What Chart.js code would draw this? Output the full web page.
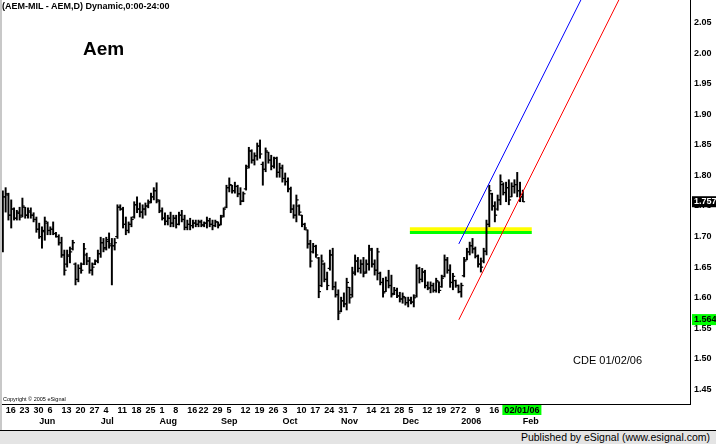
<!DOCTYPE html>
<html>
<head>
<meta charset="utf-8">
<script src="https://cdn.jsdelivr.net/npm/chart.js@4.4.1/dist/chart.umd.min.js"></script>
<style>
  html, body { margin: 0; padding: 0; background: #fff; }
  #wrap { position: relative; width: 716px; height: 444px; overflow: hidden; font-family: "Liberation Sans", Arial, sans-serif; }
  #edge { position: absolute; left: 0; top: 0; width: 2px; height: 430px; background: #c8c8c8; }
  #chartBox { position: absolute; left: 2px; top: 0; width: 714px; height: 430px; }
  #footer { position: absolute; left: 0; top: 430px; width: 716px; height: 14px; box-sizing: border-box;
            background: #e4e4e4; border-top: 1px solid #000; }
  #footer span { position: absolute; right: 6px; top: 0; font-size: 10.5px; line-height: 13px; color: #000; }
  .txt { position: absolute; white-space: nowrap; color: #000; }
  #head { left: 2px; top: 1px; font-size: 9px; font-weight: bold; }
  #sym { left: 83px; top: 38px; font-size: 19px; font-weight: bold; }
  #note { left: 573px; top: 354px; font-size: 11px; }
  #copy { left: 3px; top: 396px; font-size: 5.5px; }
</style>
</head>
<body>
<div id="wrap">
  <div id="edge"></div>
  <div id="chartBox"><canvas id="ohlc"></canvas></div>
  <div class="txt" id="head">(AEM-MIL - AEM,D) Dynamic,0:00-24:00</div>
  <div class="txt" id="sym">Aem</div>
  <div class="txt" id="note">CDE 01/02/06</div>
  <div class="txt" id="copy">Copyright © 2005 eSignal</div>
  <div id="footer"><span>Published by eSignal (www.esignal.com)</span></div>
</div>
<script>
// daily bars, 13 May 2005 .. 1 Feb 2006
const highs = [
  1.775,1.780,1.771,1.760,1.747,1.743,1.748,1.763,1.748,1.747,
  1.747,1.739,1.732,1.722,1.716,1.732,1.724,1.716,1.724,1.707,
  1.703,1.699,1.678,1.678,1.683,1.694,1.657,1.654,1.657,1.689,
  1.673,1.666,1.657,1.662,1.678,1.699,1.697,1.699,1.706,1.697,
  1.697,1.752,1.752,1.748,1.732,1.724,1.732,1.757,1.765,1.755,
  1.752,1.755,1.760,1.771,1.780,1.788,1.760,1.747,1.739,1.735,
  1.740,1.735,1.735,1.740,1.743,1.735,1.727,1.730,1.727,1.727,
  1.727,1.727,1.724,1.732,1.730,1.727,1.727,1.724,1.735,1.747,
  1.784,1.796,1.784,1.789,1.784,1.780,1.773,1.817,1.846,1.842,
  1.837,1.853,1.858,1.822,1.845,1.838,1.833,1.830,1.830,1.820,
  1.817,1.804,1.796,1.781,1.752,1.768,1.752,1.735,1.722,1.711,
  1.694,1.689,1.686,1.666,1.670,1.657,1.642,1.678,1.681,1.626,
  1.613,1.601,1.608,1.632,1.617,1.650,1.670,1.666,1.662,1.666,
  1.662,1.686,1.681,1.662,1.681,1.642,1.632,1.634,1.645,1.637,
  1.617,1.616,1.609,1.608,1.601,1.601,1.601,1.605,1.654,1.650,
  1.648,1.645,1.626,1.626,1.624,1.632,1.626,1.637,1.670,1.666,
  1.654,1.640,1.629,1.621,1.624,1.666,1.681,1.691,1.697,1.683,
  1.670,1.665,1.681,1.727,1.784,1.771,1.757,1.768,1.801,1.788,
  1.789,1.793,1.788,1.793,1.805,1.789,1.776
];
const lows = [
  1.675,1.740,1.727,1.714,1.727,1.727,1.727,1.732,1.730,1.730,
  1.730,1.724,1.707,1.697,1.681,1.694,1.703,1.703,1.703,1.699,
  1.686,1.666,1.637,1.650,1.657,1.678,1.621,1.626,1.640,1.654,
  1.654,1.640,1.637,1.654,1.657,1.666,1.675,1.678,1.681,1.621,
  1.678,1.697,1.743,1.714,1.703,1.706,1.716,1.730,1.739,1.732,
  1.730,1.735,1.747,1.755,1.760,1.755,1.739,1.727,1.719,1.719,
  1.716,1.716,1.714,1.719,1.724,1.711,1.711,1.711,1.714,1.716,
  1.716,1.716,1.716,1.714,1.716,1.711,1.716,1.714,1.719,1.732,
  1.747,1.773,1.771,1.771,1.765,1.752,1.757,1.776,1.812,1.820,
  1.817,1.825,1.828,1.784,1.806,1.820,1.809,1.812,1.797,1.797,
  1.789,1.784,1.773,1.739,1.730,1.724,1.735,1.716,1.711,1.681,
  1.650,1.673,1.666,1.600,1.618,1.626,1.613,1.645,1.613,1.601,
  1.564,1.577,1.585,1.580,1.591,1.601,1.637,1.642,1.640,1.634,
  1.640,1.645,1.650,1.637,1.629,1.621,1.601,1.610,1.616,1.601,
  1.605,1.600,1.593,1.591,1.588,1.585,1.590,1.585,1.601,1.624,
  1.626,1.616,1.613,1.608,1.609,1.609,1.608,1.617,1.634,1.640,
  1.617,1.613,1.617,1.608,1.601,1.634,1.662,1.670,1.673,1.665,
  1.650,1.642,1.657,1.670,1.716,1.743,1.724,1.743,1.752,1.768,
  1.757,1.752,1.765,1.771,1.765,1.757,1.757
];
const opens = [
  1.680,1.765,1.768,1.735,1.745,1.730,1.738,1.735,1.748,1.735,
  1.740,1.735,1.728,1.712,1.700,1.708,1.722,1.710,1.712,1.705,
  1.700,1.690,1.670,1.655,1.668,1.680,1.655,1.630,1.648,1.655,
  1.670,1.660,1.645,1.655,1.660,1.672,1.690,1.682,1.692,1.688,
  1.685,1.700,1.748,1.745,1.720,1.710,1.720,1.732,1.752,1.745,
  1.740,1.745,1.750,1.757,1.765,1.775,1.758,1.742,1.730,1.725,
  1.730,1.722,1.730,1.720,1.735,1.728,1.715,1.720,1.718,1.722,
  1.720,1.724,1.719,1.722,1.726,1.720,1.718,1.724,1.720,1.734,
  1.748,1.780,1.784,1.775,1.782,1.770,1.758,1.778,1.815,1.840,
  1.825,1.832,1.848,1.818,1.810,1.838,1.825,1.815,1.828,1.805,
  1.812,1.795,1.790,1.778,1.745,1.735,1.750,1.735,1.720,1.711,
  1.688,1.675,1.684,1.665,1.620,1.655,1.630,1.648,1.670,1.618,
  1.605,1.578,1.595,1.590,1.617,1.605,1.642,1.660,1.648,1.655,
  1.642,1.655,1.678,1.655,1.645,1.640,1.625,1.610,1.628,1.620,
  1.607,1.612,1.603,1.598,1.600,1.592,1.596,1.593,1.603,1.648,
  1.630,1.642,1.620,1.616,1.620,1.612,1.626,1.618,1.635,1.662,
  1.645,1.625,1.628,1.620,1.610,1.636,1.662,1.675,1.685,1.680,
  1.668,1.655,1.660,1.676,1.720,1.770,1.750,1.745,1.760,1.785,
  1.772,1.780,1.765,1.782,1.785,1.775,1.765
];
const closes = [
  1.765,1.770,1.735,1.745,1.730,1.740,1.732,1.750,1.735,1.742,
  1.735,1.728,1.712,1.700,1.710,1.725,1.710,1.712,1.705,1.700,
  1.690,1.670,1.645,1.670,1.675,1.690,1.630,1.648,1.645,1.680,
  1.660,1.645,1.650,1.660,1.672,1.690,1.680,1.695,1.685,1.685,
  1.690,1.748,1.745,1.720,1.710,1.720,1.728,1.752,1.745,1.740,
  1.745,1.750,1.755,1.765,1.775,1.760,1.742,1.730,1.725,1.730,
  1.722,1.730,1.720,1.735,1.728,1.715,1.720,1.718,1.722,1.720,
  1.724,1.719,1.722,1.726,1.720,1.718,1.724,1.718,1.732,1.745,
  1.780,1.785,1.775,1.782,1.770,1.758,1.770,1.812,1.840,1.825,
  1.832,1.848,1.835,1.810,1.840,1.825,1.815,1.828,1.805,1.812,
  1.795,1.790,1.778,1.745,1.735,1.760,1.740,1.720,1.714,1.688,
  1.660,1.684,1.670,1.610,1.660,1.630,1.620,1.670,1.618,1.605,
  1.575,1.595,1.590,1.625,1.600,1.640,1.660,1.648,1.655,1.640,
  1.655,1.680,1.655,1.645,1.675,1.625,1.608,1.628,1.620,1.605,
  1.612,1.603,1.598,1.602,1.592,1.596,1.593,1.600,1.648,1.630,
  1.642,1.620,1.616,1.620,1.612,1.628,1.612,1.632,1.662,1.645,
  1.625,1.635,1.620,1.610,1.620,1.660,1.675,1.685,1.680,1.668,
  1.655,1.650,1.676,1.720,1.775,1.750,1.735,1.760,1.790,1.772,
  1.780,1.760,1.782,1.785,1.775,1.765,1.757
];

const firstDay = '2005-05-13';
const holidays = ['2005-08-15', '2005-12-26'];   // Borsa closed
const monthNames = ['Jan','Feb','Mar','Apr','May','Jun','Jul','Aug','Sep','Oct','Nov','Dec'];
const yTicks = [1.45, 1.50, 1.55, 1.60, 1.65, 1.70, 1.75, 1.80, 1.85, 1.90, 1.95, 2.00, 2.05];
const cursorPrice = 1.5643;
const lastPrice = 1.757;
const cursorLabel = '02/01/06';

// drawing tools: [bar index, price]
const channelUpper = [[163.1, 1.688], [215, 2.162]];
const channelLower = [[163.1, 1.564], [230, 2.175]];
const bandTop = [[145.6, 1.712], [189.2, 1.712]];
const bandBottom = [[145.6, 1.7065], [189.2, 1.7065]];

// trading calendar
const dates = [];
const d = new Date(firstDay + 'T12:00:00Z');
while (dates.length < highs.length) {
    const iso = d.toISOString().slice(0, 10);
    const wd = d.getUTCDay();
    if (wd !== 0 && wd !== 6 && !holidays.includes(iso)) dates.push(new Date(d));
    d.setUTCDate(d.getUTCDate() + 1);
}
const last = dates.length - 1;

let dayTicks = [];
const monthTicks = [];
for (let i = 1; i < dates.length; i++) {
    if (dates[i].getUTCDay() < dates[i - 1].getUTCDay())
        dayTicks.push({ value: i, label: String(dates[i].getUTCDate()) });
    if (dates[i].getUTCMonth() !== dates[i - 1].getUTCMonth()) {
        const m = dates[i].getUTCMonth();
        monthTicks.push({ value: i, label: m === 0 ? String(dates[i].getUTCFullYear()) : monthNames[m] });
    }
}
// the cursor date box hides the last two week labels
dayTicks = dayTicks.filter(t => t.value < last - 8);
dayTicks.push({ value: last - 6.6, label: cursorLabel, cursor: true });

const yAll = yTicks.concat([cursorPrice, lastPrice]);
const yLabels = yTicks.map(v => v.toFixed(2)).concat(['1.5643', lastPrice.toFixed(3)]);

const pts = arr => arr.map(p => ({ x: p[0], y: p[1] }));
const tickFont = { family: '"Liberation Sans", Arial, sans-serif', size: 9, weight: 'bold', lineHeight: 1 };

const ctx = document.getElementById('ohlc').getContext('2d');

new Chart(ctx, {
    type: 'bar',
    data: {
        datasets: [
            {
                type: 'line', data: pts(bandTop), borderColor: '#ffff00', borderWidth: 4,
                pointRadius: 0, borderCapStyle: 'butt', order: 5
            },
            {
                type: 'line', data: pts(bandBottom), borderColor: '#00ff00', borderWidth: 3,
                pointRadius: 0, borderCapStyle: 'butt', order: 4
            },
            {
                type: 'bar',
                data: highs.map((h, i) => ({ x: i, y: [lows[i], h] })),
                backgroundColor: '#000', barThickness: 1.3, borderWidth: 0, order: 3
            },
            {
                type: 'line', showLine: false,
                data: opens.map((o, i) => ({ x: i - 0.42, y: o })),
                pointStyle: 'line', pointRadius: 1.1, pointBorderWidth: 1.2, pointBorderColor: '#000', order: 2
            },
            {
                type: 'line', showLine: false,
                data: closes.map((c, i) => ({ x: i + 0.42, y: c })),
                pointStyle: 'line', pointRadius: 1.1, pointBorderWidth: 1.2, pointBorderColor: '#000', order: 2
            },
            {
                type: 'line', data: pts(channelUpper), borderColor: '#0000ff', borderWidth: 1,
                pointRadius: 0, order: 1
            },
            {
                type: 'line', data: pts(channelLower), borderColor: '#ff0000', borderWidth: 1,
                pointRadius: 0, order: 1
            }
        ]
    },
    options: {
        responsive: true,
        maintainAspectRatio: false,
        animation: false,
        events: [],
        layout: { padding: 0, autoPadding: false },
        plugins: { legend: { display: false }, tooltip: { enabled: false } },
        scales: {
            x: {
                type: 'linear', position: 'bottom', min: -0.3, max: 245.8, offset: false,
                grid: { display: false, drawTicks: false },
                border: { display: true, color: '#000', width: 1 },
                afterBuildTicks: s => { s.ticks = dayTicks.map(t => ({ value: t.value })); },
                afterFit: s => { s.height = 13; s.paddingLeft = 0; s.paddingRight = 0; },
                ticks: {
                    autoSkip: false, maxRotation: 0, minRotation: 0, align: 'start', padding: 2,
                    font: tickFont, color: '#000',
                    callback: (v, i) => dayTicks[i] ? dayTicks[i].label : '',
                    showLabelBackdrop: c => !!(dayTicks[c.index] && dayTicks[c.index].cursor),
                    backdropColor: '#00ff00',
                    backdropPadding: { left: 2, right: 2, top: 1, bottom: 0 }
                }
            },
            x2: {
                type: 'linear', position: 'bottom', min: -0.3, max: 245.8, offset: false, weight: 1,
                grid: { display: false, drawTicks: false },
                border: { display: false },
                afterBuildTicks: s => { s.ticks = monthTicks.map(t => ({ value: t.value })); },
                afterFit: s => { s.height = 13; s.paddingLeft = 0; s.paddingRight = 0; },
                ticks: {
                    autoSkip: false, maxRotation: 0, minRotation: 0, align: 'start', padding: 0,
                    font: tickFont, color: '#000',
                    callback: (v, i) => monthTicks[i] ? monthTicks[i].label : ''
                }
            },
            y: {
                type: 'linear', position: 'right', min: 1.4263, max: 2.0868,
                grid: { display: false, drawTicks: false },
                border: { display: true, color: '#000', width: 1 },
                afterBuildTicks: s => { s.ticks = yAll.map(v => ({ value: v })); },
                afterFit: s => { s.width = 26; s.paddingTop = 0; s.paddingBottom = 0; },
                ticks: {
                    autoSkip: false, padding: 4, font: tickFont,
                    callback: (v, i) => yLabels[i],
                    color: c => c.index === yAll.length - 1 ? '#fff' : '#000',
                    showLabelBackdrop: c => c.index >= yTicks.length,
                    backdropColor: c => c.index === yAll.length - 1 ? '#000' : '#00ff00',
                    backdropPadding: { left: 2, right: 4, top: 1, bottom: 1 }
                }
            }
        }
    }
});
</script>
</body>
</html>
